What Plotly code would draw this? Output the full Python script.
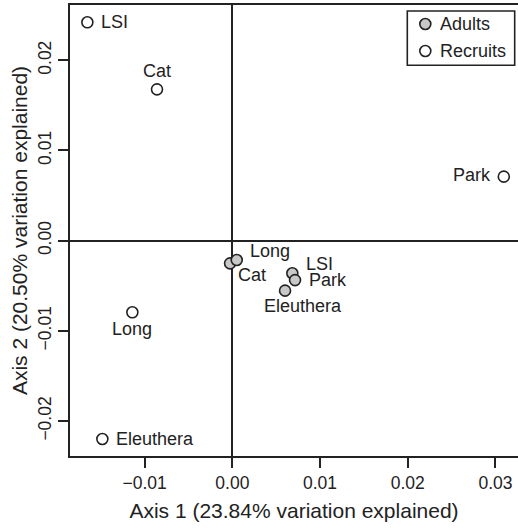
import plotly.graph_objects as go

# ---- data ----
sites = ["LSI", "Cat", "Park", "Long", "Eleuthera"]
adults_x = [0.00684, -0.00026, 0.00715, 0.00050, 0.00601]
adults_y = [-0.00361, -0.00251, -0.00437, -0.00214, -0.00554]
recruits_x = [-0.01653, -0.00859, 0.03095, -0.01140, -0.01482]
recruits_y = [0.02421, 0.01678, 0.00710, -0.00794, -0.02198]
x_ticks = [-0.01, 0.00, 0.01, 0.02, 0.03]
y_ticks = [-0.02, -0.01, 0.00, 0.01, 0.02]
x_title = "Axis 1 (23.84% variation explained)"
y_title = "Axis 2 (20.50% variation explained)"
legend_names = ["Adults", "Recruits"]

# label placement (style): (xanchor, xshift, yshift)
adult_lab = [("left", 12, 9), ("left", 6, -12), ("left", 12, 0), ("left", 11, 9), ("center", 18, -15)]
recruit_lab = [("left", 12, 0), ("center", 0, 18), ("right", -11, 2), ("center", 0, -17), ("left", 12, 0)]

FONT = "Liberation Sans, Arial, sans-serif"
TXT = "#222222"
FILLS = ["#c8c8c8", "white"]

def mk(fill):
    return dict(size=11, color=fill, line=dict(color="#222222", width=1.6))

fig = go.Figure()
fig.add_trace(go.Scatter(x=adults_x, y=adults_y, mode="markers", name=legend_names[0],
                         marker=mk(FILLS[0]), showlegend=False))
fig.add_trace(go.Scatter(x=recruits_x, y=recruits_y, mode="markers", name=legend_names[1],
                         marker=mk(FILLS[1]), showlegend=False))

ann = []
for xs, ys, labs in [(adults_x, adults_y, adult_lab), (recruits_x, recruits_y, recruit_lab)]:
    for s, x, y, (xa, dx, dy) in zip(sites, xs, ys, labs):
        ann.append(dict(x=x, y=y, xref="x", yref="y", text=s, showarrow=False,
                        xanchor=xa, yanchor="middle", xshift=dx, yshift=dy,
                        font=dict(family=FONT, size=18, color=TXT)))

# ---- manual legend (in plot-area fractions) ----
leg_marker_x = 0.7931
leg_text_x = 0.8214
leg_rows_y = [0.9579, 0.8980]
fig.add_trace(go.Scatter(x=[leg_marker_x] * 2, y=leg_rows_y, xaxis="x2", yaxis="y2",
                         mode="markers", showlegend=False, hoverinfo="skip",
                         marker=dict(size=11, color=FILLS, line=dict(color="#222222", width=1.6))))
for name, yy in zip(legend_names, leg_rows_y):
    ann.append(dict(x=leg_text_x, y=yy, xref="paper", yref="paper", text=name, showarrow=False,
                    xanchor="left", yanchor="middle",
                    font=dict(family=FONT, size=18, color=TXT)))
shapes = [dict(type="rect", xref="paper", yref="paper", x0=0.7529, x1=0.9926, y0=0.8663, y1=0.9867,
               line=dict(color="#222222", width=1.6), fillcolor="rgba(0,0,0,0)", layer="above")]

fig.update_layout(
    width=518, height=528,
    margin=dict(l=70, r=0, t=5, b=72),
    paper_bgcolor="white", plot_bgcolor="white",
    font=dict(family=FONT, color=TXT),
    annotations=ann, shapes=shapes,
    showlegend=False,
    xaxis=dict(
        range=[-0.01851, 0.03257], tickvals=x_ticks, tickformat=".2f",
        showgrid=False, zeroline=True, zerolinecolor="#222222", zerolinewidth=1.6,
        showline=True, linecolor="#222222", linewidth=1.6, mirror=True,
        ticks="outside", ticklen=10, tickwidth=1.6, tickcolor="#222222",
        tickfont=dict(family=FONT, size=17.5, color=TXT),
        title=dict(text=x_title, font=dict(family=FONT, size=21, color=TXT), standoff=12),
    ),
    yaxis=dict(
        range=[-0.02387, 0.02613], tickvals=y_ticks, tickformat=".2f",
        showgrid=False, zeroline=True, zerolinecolor="#222222", zerolinewidth=1.6,
        showline=True, linecolor="#222222", linewidth=1.6, mirror=False,
        ticks="outside", ticklen=10, tickwidth=1.6, tickcolor="#222222",
        tickangle=-90,
        tickfont=dict(family=FONT, size=17.5, color=TXT),
        title=dict(text=y_title, font=dict(family=FONT, size=21, color=TXT), standoff=2),
    ),
    xaxis2=dict(overlaying="x", range=[0, 1], visible=False),
    yaxis2=dict(overlaying="y", range=[0, 1], visible=False),
)

fig.write_html("out.html")
